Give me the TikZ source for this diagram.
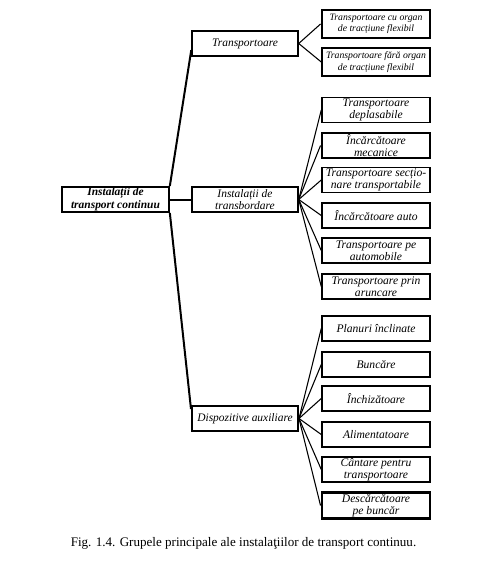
\documentclass[tikz,border=0pt]{standalone}
\usepackage{fontspec}
\setmainfont{Liberation Serif}
\usetikzlibrary{calc}
\begin{document}
\begin{tikzpicture}[x=0.75pt,y=-0.75pt,
  box/.style={draw,line width=1.1pt,inner sep=0pt,align=center,font=\itshape\fontsize{8.6}{9.5}\selectfont},
  lvtwo/.style={box,minimum width=79.5pt,minimum height=18.75pt},
  lvthree/.style={box,minimum width=81pt,minimum height=18.75pt,font=\itshape\fontsize{8.7}{9.1}\selectfont},
  small/.style={font=\itshape\fontsize{7.3}{8.5}\selectfont,minimum height=21pt},
  heavy/.style={line width=2.2pt},
  trunk/.style={line width=1.5pt},
  fan/.style={line width=0.8pt}]
\useasboundingbox (0,0) rectangle (496,578);
% root
\node[box,line width=1.5pt,minimum width=80pt,minimum height=18.75pt,font=\bfseries\itshape\fontsize{8.6}{9.6}\selectfont] (root) at (115.5,199.5) {Instalații de\\transport continuu};
% level two
\node[lvtwo] (tr) at (245,43.5) {Transportoare};
\node[lvtwo,font=\itshape\fontsize{8.6}{9.6}\selectfont] (it) at (245,199.5) {Instalații de\\transbordare};
\node[lvtwo,line width=1.5pt] (da) at (245,418.5) {Dispozitive auxiliare};
% level three
\node[lvthree,small,heavy] (c1) at (376,24) {Transportoare cu organ\\de tracțiune flexibil};
\node[lvthree,small] (c2) at (376,62) {Transportoare fără organ\\de tracțiune flexibil};
\node[lvthree] (c3) at (376,110) {Transportoare\\deplasabile};
\node[lvthree,heavy] (c4) at (376,145.5) {Încărcătoare\\mecanice};
\node[lvthree] (c5) at (376,180) {Transportoare secțio-\\nare transportabile};
\node[lvthree] (c6) at (376,215.5) {Încărcătoare auto};
\node[lvthree] (c7) at (376,250.5) {Transportoare pe\\automobile};
\node[lvthree] (c8) at (376,286.5) {Transportoare prin\\aruncare};
\node[lvthree] (c9) at (376,328.5) {Planuri înclinate};
\node[lvthree] (c10) at (376,364.5) {Buncăre};
\node[lvthree] (c11) at (376,398.5) {Închizătoare};
\node[lvthree] (c12) at (376,434.5) {Alimentatoare};
\node[lvthree] (c13) at (376,469.5) {Cântare pentru\\transportoare};
\node[lvthree,heavy,minimum height=20pt] (c14) at (376,505.5) {Descărcătoare\\pe buncăr};
% caption
\node[font=\fontsize{9.8}{11}\selectfont] (cap) at (243.5,543) {Fig. 1.4. Grupele principale ale instalaţiilor de transport continuu.};
% trunks
\draw[trunk] (root.east) -- (it.west);
\draw[trunk] (root.north east) -- ($(tr.west)!0.5!(tr.south west)$);
\draw[trunk] (root.south east) -- ($(da.west)!0.7!(da.north west)$);
% fans
\foreach \c in {c1,c2} \draw[fan] (tr.east) -- (\c.west);
\foreach \c in {c3,c4,c5,c6,c7,c8} \draw[fan] (it.east) -- (\c.west);
\foreach \c in {c9,c10,c11,c12,c13,c14} \draw[fan] (da.east) -- (\c.west);
\end{tikzpicture}
\end{document}
